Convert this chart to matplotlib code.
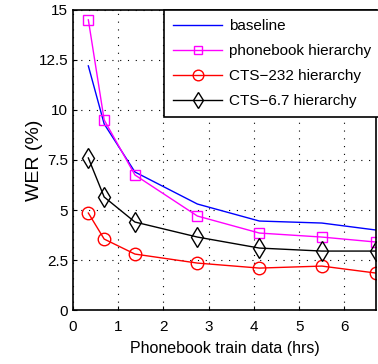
import matplotlib
matplotlib.use("Agg")
import matplotlib.pyplot as plt

plt.rcParams["font.family"] = ["Liberation Sans", "DejaVu Sans"]

hours = [0.34, 0.69, 1.37, 2.75, 4.12, 5.5, 6.7]
baseline = [12.2, 9.3, 6.9, 5.3, 4.45, 4.35, 4.0]
phonebook = [14.5, 9.5, 6.75, 4.7, 3.85, 3.65, 3.4]
cts232 = [4.85, 3.55, 2.8, 2.35, 2.1, 2.2, 1.85]
cts67 = [7.6, 5.65, 4.4, 3.65, 3.1, 2.95, 2.95]

x_ticks = [0, 1, 2, 3, 4, 5, 6]
y_ticks = [0, 2.5, 5, 7.5, 10, 12.5, 15]
y_tick_labels = ["0", "2.5", "5", "7.5", "10", "12.5", "15"]

fig = plt.figure(figsize=(3.78, 3.64), dpi=100)
ax = fig.add_axes([0.193, 0.148, 0.802, 0.825])

ax.plot(hours, baseline, color="blue", lw=1, label="baseline")
ax.plot(hours, phonebook, color="magenta", lw=1, marker="s", ms=7,
        mfc="none", mec="magenta", label="phonebook hierarchy")
ax.plot(hours, cts232, color="red", lw=1, marker="o", ms=9,
        mfc="none", mec="red", label="CTS\u2212232 hierarchy")
ax.plot(hours, cts67, color="black", lw=1, marker="d", ms=10,
        mfc="none", mec="black", label="CTS\u22126.7 hierarchy")

ax.set_xlim(0, 6.7)
ax.set_ylim(0, 15)
ax.set_xticks(x_ticks)
ax.set_yticks(y_ticks)
ax.set_yticklabels(y_tick_labels)
ax.tick_params(labelsize=11, direction="in", length=3)
ax.tick_params(axis="x", pad=7)
ax.grid(True, linestyle=(0, (1, 6)), color="black", lw=0.8)
ax.set_xlabel("Phonebook train data (hrs)", fontsize=11.5, labelpad=5)
ax.set_ylabel("WER (%)", fontsize=14)
ax.yaxis.set_label_coords(-0.10, 0.5)
for spine in ax.spines.values():
    spine.set_linewidth(1.2)

leg = ax.legend(loc="upper left", bbox_to_anchor=(0.30, 1.0), fontsize=11,
                fancybox=False, framealpha=1, edgecolor="black",
                borderaxespad=0, borderpad=0.6, handlelength=3.2,
                handletextpad=0.45, labelspacing=0.72, markerscale=0.85)
leg.get_frame().set_linewidth(1.2)

fig.savefig("out.png", dpi=100)
